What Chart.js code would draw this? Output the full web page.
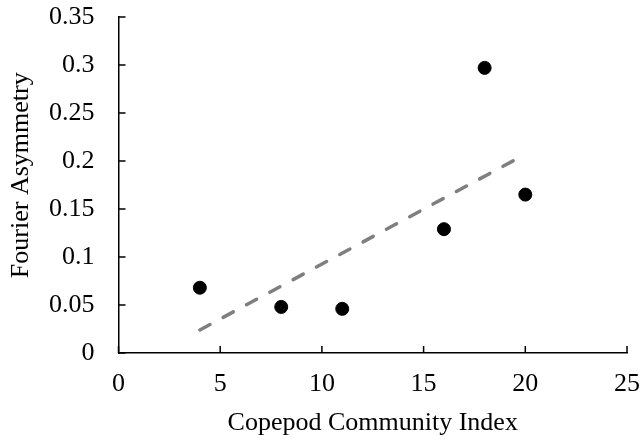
<!DOCTYPE html>
<html>
<head>
<meta charset="utf-8">
<script src="https://cdn.jsdelivr.net/npm/chart.js@4/dist/chart.umd.min.js"></script>
<style>
  html, body { margin: 0; padding: 0; background: #fff; }
  #wrap { width: 642px; height: 442px; }
</style>
</head>
<body>
<div id="wrap"><canvas id="myChart" width="642" height="442"></canvas></div>
<script>
// values
const communityIndex = [4, 8, 11, 16, 18, 20];
const asymmetry = [0.068, 0.048, 0.046, 0.129, 0.297, 0.165];
// linear trendline, start and end as drawn
const trendX = [4, 20];
const trendY = [0.024, 0.207];
const xTicks = [0, 5, 10, 15, 20, 25];
const yTicks = [0, 0.05, 0.1, 0.15, 0.2, 0.25, 0.3, 0.35];

const font = { family: "'Liberation Serif', 'Times New Roman', serif", size: 26 };

// excel-style tick marks that point into the plot
const insideTicks = {
  id: "insideTicks",
  afterDraw(chart) {
    const ctx = chart.ctx;
    const xs = chart.scales.x;
    const ys = chart.scales.y;
    const len = 7;
    ctx.save();
    ctx.strokeStyle = "#000";
    ctx.lineWidth = 1.5;
    ctx.beginPath();
    xTicks.forEach(v => {
      const px = xs.getPixelForValue(v);
      ctx.moveTo(px, xs.top);
      ctx.lineTo(px, xs.top - len);
    });
    yTicks.forEach(v => {
      const py = ys.getPixelForValue(v);
      ctx.moveTo(ys.right, py);
      ctx.lineTo(ys.right + len, py);
    });
    ctx.stroke();
    ctx.restore();
  }
};

const ctx = document.getElementById("myChart");
new Chart(ctx, {
  type: "scatter",
  data: {
    datasets: [
      {
        label: "Fourier Asymmetry",
        data: communityIndex.map((x, i) => ({ x: x, y: asymmetry[i] })),
        backgroundColor: "#000",
        borderColor: "#000",
        pointRadius: 6.5,
        pointHoverRadius: 6.5,
        order: 1
      },
      {
        label: "Linear trend",
        type: "line",
        data: trendX.map((x, i) => ({ x: x, y: trendY[i] })),
        borderColor: "#7f7f7f",
        borderWidth: 3.5,
        borderDash: [11.5, 15],
        borderCapStyle: "round",
        pointRadius: 0,
        fill: false,
        order: 0
      }
    ]
  },
  options: {
    responsive: false,
    animation: false,
    layout: { padding: { top: 17, right: 15, left: 0, bottom: 0 } },
    plugins: { legend: { display: false }, tooltip: { enabled: false } },
    scales: {
      x: {
        type: "linear",
        min: 0,
        max: 25,
        afterBuildTicks: s => { s.ticks = xTicks.map(v => ({ value: v })); },
        afterFit: s => { s.height = 89; s.paddingLeft = 0; s.paddingRight = 0; },
        grid: { display: false, drawTicks: false },
        border: { display: true, color: "#000", width: 1.5 },
        ticks: { color: "#000", font: font, padding: 16, maxRotation: 0 },
        title: { display: true, text: "Copepod Community Index", color: "#000", font: font, padding: { top: 0, bottom: 3 } }
      },
      y: {
        type: "linear",
        min: 0,
        max: 0.35,
        afterBuildTicks: s => { s.ticks = yTicks.map(v => ({ value: v })); },
        afterFit: s => { s.width = 118.5; s.paddingTop = 0; s.paddingBottom = 0; },
        grid: { display: false, drawTicks: false },
        border: { display: true, color: "#000", width: 1.5 },
        ticks: { color: "#000", font: font, padding: 24, callback: v => String(+v.toFixed(2)) },
        // leading no-break spaces nudge the centred (rotated) title up, as in the reference
        title: { display: true, text: "\u00a0\u00a0\u00a0Fourier Asymmetry", color: "#000", font: font, padding: { top: 6, bottom: 0 } }
      }
    }
  },
  plugins: [insideTicks]
});
</script>
</body>
</html>
